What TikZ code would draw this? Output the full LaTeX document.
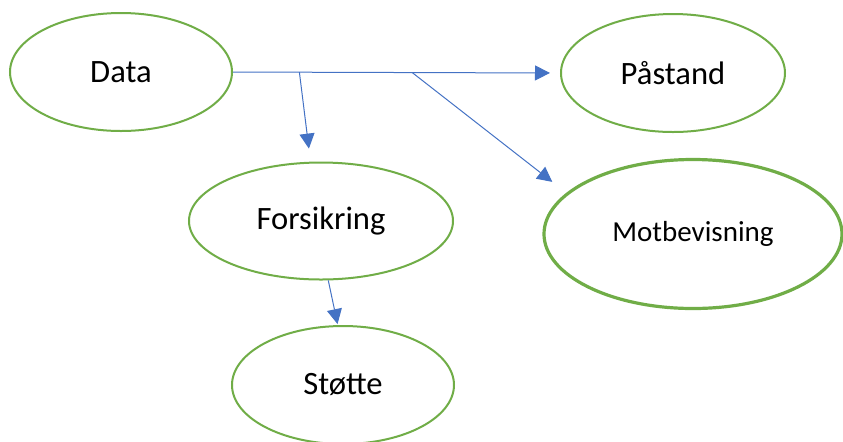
\documentclass[tikz,border=0pt]{standalone}
\usepackage{fontspec}
\setmainfont{Carlito}
\usetikzlibrary{shapes.geometric,arrows.meta}
\definecolor{ringgreen}{HTML}{70AD47}
\definecolor{linkblue}{HTML}{4472C4}
\begin{document}
\begin{tikzpicture}
		[	x=0.5pt,y=-0.5pt,
		claim/.style={ellipse,draw=ringgreen,line width=1pt,fill=white,inner sep=0pt,
			minimum width=111pt,minimum height=59pt,font=\fontsize{16.3}{19}\selectfont},
		link/.style={draw=linkblue,line width=0.5pt,-{Triangle[length=7.5pt,width=7.5pt]}}
		]
		\useasboundingbox (0,0) rectangle (843,441);
		\node[claim] (data) at (121,72){Data};
		\node[claim,minimum width=112pt] (pastand) at (673,73){Påstand};
		\node[claim,minimum width=132pt,minimum height=58.5pt] (forsikring) at (321,221){Forsikring};
		\node[claim,line width=1.6pt,minimum width=149pt,minimum height=74.5pt,
			font=\fontsize{14.5}{17}\selectfont] (motbevisning) at (693,234){Motbevisning};
		\node[claim] (stotte) at (343,385){Støtte};

\draw[link,shorten >=5pt] (data.east) -- (pastand.west)
	coordinate[pos=0.203] (b1) coordinate[pos=0.548] (b2);
\draw[link,shorten >=6.6pt] (b1) -- (forsikring.100);
\draw[link,shorten >=8.9pt] (b2) -- (motbevisning.162);
		\draw[link,shorten >=0.5pt] (forsikring.-83) -- (stotte.95);
	\end{tikzpicture}
\end{document}
